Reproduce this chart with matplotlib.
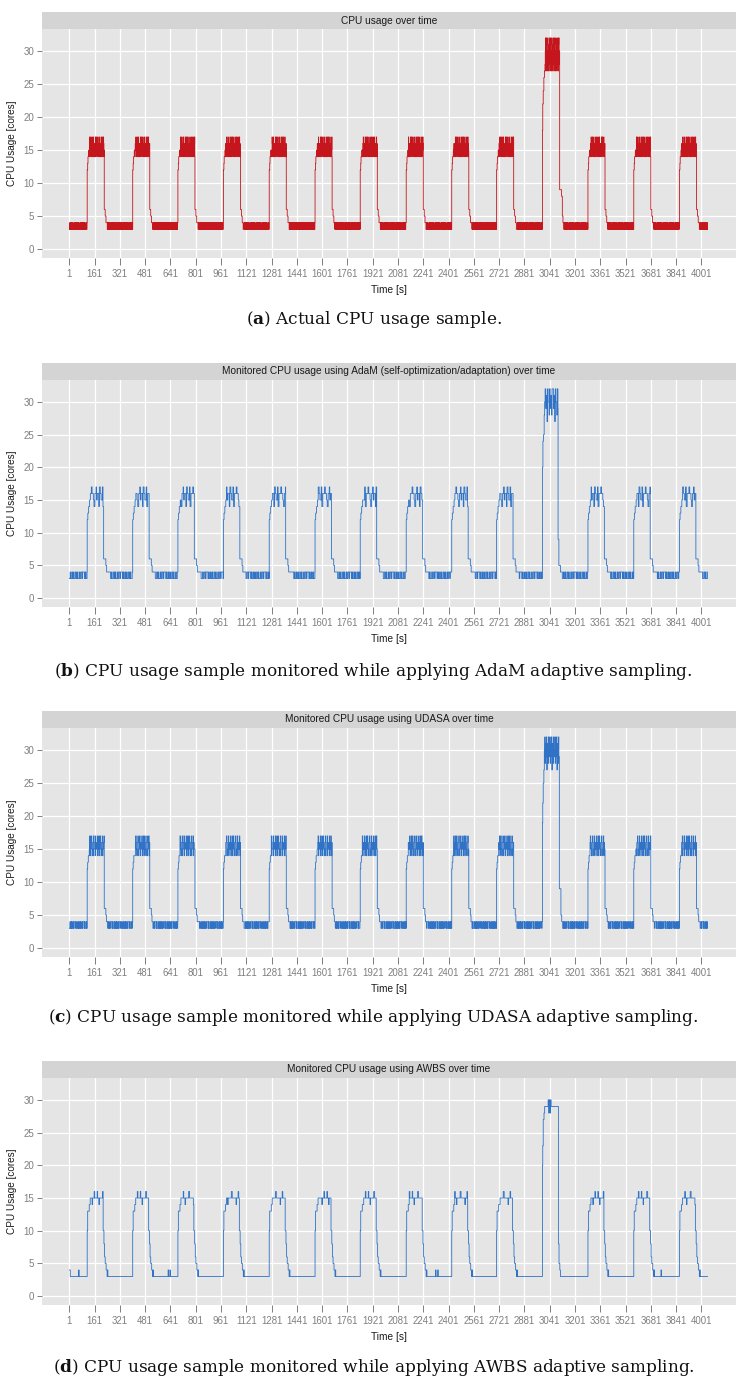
import numpy as np
import matplotlib
matplotlib.use("Agg")
import matplotlib.pyplot as plt
from matplotlib.patches import Rectangle

# ---------------- data ----------------
T_END = 4040
BURST_START = [114, 402, 688, 976, 1266, 1556, 1842, 2133, 2421, 2705, 2995, 3283, 3573, 3862]
BIG_BURST = 10

X_TICKS = [1, 161, 321, 481, 641, 801, 961, 1121, 1281, 1441, 1601, 1761, 1921,
           2081, 2241, 2401, 2561, 2721, 2881, 3041, 3201, 3361, 3521, 3681, 3841, 4001]
Y_TICKS = [0, 5, 10, 15, 20, 25, 30]

TITLES = ["CPU usage over time",
          "Monitored CPU usage using AdaM (self-optimization/adaptation) over time",
          "Monitored CPU usage using UDASA over time",
          "Monitored CPU usage using AWBS over time"]
CAPTION_LETTERS = ["a", "b", "c", "d"]
CAPTIONS = [" Actual CPU usage sample.",
            " CPU usage sample monitored while applying AdaM adaptive sampling.",
            " CPU usage sample monitored while applying UDASA adaptive sampling.",
            " CPU usage sample monitored while applying AWBS adaptive sampling."]

# (a) actual usage: segments are (seconds, cores)
ACT_UP = [(3, 12), (2, 13), (5, 14), (2, 15), (2, 14)]
ACT_TOP = [(2, 15), (1, 17), (2, 14), (1, 16), (3, 15), (1, 17), (2, 16), (1, 14), (4, 15),
           (1, 17), (2, 16), (1, 14), (2, 15), (3, 16), (1, 17), (2, 14), (1, 16), (2, 15),
           (1, 14), (3, 16)]
ACT_TOP_LEN = 94
ACT_DOWN = [(6, 6), (5, 5), (6, 4)]
ACT_BASE = [(2, 3), (1, 4), (3, 3), (2, 4), (1, 3), (1, 4), (4, 3), (1, 4), (2, 3), (3, 4),
            (1, 3), (2, 4), (6, 3), (1, 4), (2, 3), (1, 4), (3, 3), (2, 4)]
ACT_BIG_UP = [(2, 18), (3, 22), (4, 24), (4, 26), (3, 27)]
ACT_BIG_TOP = [(2, 28), (1, 30), (2, 32), (1, 29), (2, 27), (1, 31), (3, 32), (1, 28),
               (2, 30), (1, 27), (2, 29), (1, 32), (3, 31), (1, 28), (2, 27), (1, 30)]
ACT_BIG_LEN = 93
ACT_BIG_DOWN = [(12, 9), (5, 8), (4, 5), (4, 4)]

# (b) AdaM
ADAM_UP = [(4, 12), (5, 13), (6, 14), (5, 15)]
ADAM_TOP = [(6, 16), (5, 17), (8, 16), (4, 15), (6, 14), (7, 16), (3, 17), (5, 15), (9, 16),
            (4, 14), (6, 17), (5, 16), (8, 15), (4, 17), (6, 14), (5, 16)]
ADAM_TOP_LEN = 84
ADAM_DOWN = [(14, 6), (5, 5), (20, 4)]
ADAM_BASE = [(5, 3), (4, 4), (7, 3), (5, 4), (6, 3), (3, 4), (8, 3), (6, 4), (5, 3), (4, 4),
             (9, 3), (5, 4), (6, 3), (7, 4), (4, 3), (12, 4)]
ADAM_BIG_UP = [(3, 20), (4, 24), (4, 25), (3, 28), (3, 30)]
ADAM_BIG_TOP = [(4, 32), (3, 29), (5, 31), (3, 27), (4, 32), (6, 30), (3, 28), (4, 32),
                (5, 29), (3, 31), (4, 28), (5, 32)]
ADAM_BIG_LEN = 82
ADAM_BIG_DOWN = [(5, 9), (10, 5), (8, 4)]

# (c) UDASA
UD_UP = [(3, 12), (4, 13), (6, 14)]
UD_TOP = [(3, 15), (2, 17), (4, 14), (2, 16), (3, 17), (4, 15), (2, 14), (5, 16), (2, 17),
          (3, 14), (4, 15), (2, 16), (3, 17), (2, 14), (3, 16), (6, 15), (2, 17), (3, 14),
          (2, 16)]
UD_TOP_LEN = 95
UD_DOWN = [(10, 6), (4, 5), (6, 4)]
UD_BASE = [(4, 3), (2, 4), (5, 3), (2, 4), (3, 3), (3, 4), (6, 3), (2, 4), (4, 3), (2, 4),
           (6, 4), (3, 3), (3, 4), (2, 3), (5, 3), (3, 4)]
UD_BIG_UP = [(2, 19), (3, 22), (4, 25), (3, 27)]
UD_BIG_TOP = [(3, 30), (2, 32), (3, 28), (2, 31), (3, 29), (3, 32), (2, 27), (3, 30),
              (3, 31), (2, 28), (2, 32), (4, 29)]
UD_BIG_LEN = 95
UD_BIG_DOWN = [(10, 9), (5, 5), (4, 4)]

# (d) AWBS
AWBS_UP = [(3, 10), (10, 13), (6, 14)]
AWBS_TOP = [(12, 15), (3, 14), (10, 15), (4, 16), (15, 15), (3, 16), (8, 15), (3, 14),
            (20, 15), (6, 16), (12, 15)]
AWBS_TOP_LEN = 82
AWBS_DOWN = [(5, 10), (4, 8), (4, 6), (6, 5), (6, 4), (3, 3), (2, 4)]
AWBS_BASE = [(200, 3)]
AWBS_SPIKES = [(1, 6, 4), (60, 3, 4), (626, 4, 4), (638, 3, 4), (2318, 4, 4),
               (2332, 4, 4), (3745, 3, 4)]
AWBS_BIG_UP = [(2, 20), (3, 23), (5, 27), (4, 28)]
AWBS_BIG_TOP = [(22, 29), (4, 30), (3, 28), (5, 30), (3, 28), (4, 30), (46, 29)]
AWBS_BIG_LEN = 87
AWBS_BIG_DOWN = [(4, 8), (5, 5), (4, 4)]

RED = "#C4161C"
BLUE = "#2F72C6"


def fill(segs, n, offset=0):
    if n <= 0:
        return np.array([], dtype=float)
    out, total, i = [], 0, offset
    while total < n:
        d, v = segs[i % len(segs)]
        out.append(np.full(d, float(v)))
        total += d
        i += 1
    return np.concatenate(out)[:n]


def expand(segs):
    return fill(segs, sum(d for d, _ in segs))


def build(p, spikes=()):
    parts, t = [], 1
    for k, s in enumerate(BURST_START):
        parts.append(fill(p["base"], s - t, offset=3 * k))
        if k == BIG_BURST:
            burst = np.concatenate([expand(p["big_up"]), fill(p["big_top"], p["big_len"]),
                                    expand(p["big_down"])])
        else:
            burst = np.concatenate([expand(p["up"]), fill(p["top"], p["top_len"], offset=2 * k),
                                    expand(p["down"])])
        parts.append(burst)
        t = s + len(burst)
    parts.append(fill(p["base"], T_END - t + 1, offset=5))
    y = np.concatenate(parts)
    for ts, d, v in spikes:
        y[ts - 1:ts - 1 + d] = v
    x = np.arange(1, len(y) + 1)
    return x, y


series = [
    build(dict(up=ACT_UP, top=ACT_TOP, top_len=ACT_TOP_LEN, down=ACT_DOWN, base=ACT_BASE,
               big_up=ACT_BIG_UP, big_top=ACT_BIG_TOP, big_len=ACT_BIG_LEN,
               big_down=ACT_BIG_DOWN)),
    build(dict(up=ADAM_UP, top=ADAM_TOP, top_len=ADAM_TOP_LEN, down=ADAM_DOWN, base=ADAM_BASE,
               big_up=ADAM_BIG_UP, big_top=ADAM_BIG_TOP, big_len=ADAM_BIG_LEN,
               big_down=ADAM_BIG_DOWN)),
    build(dict(up=UD_UP, top=UD_TOP, top_len=UD_TOP_LEN, down=UD_DOWN, base=UD_BASE,
               big_up=UD_BIG_UP, big_top=UD_BIG_TOP, big_len=UD_BIG_LEN,
               big_down=UD_BIG_DOWN)),
    build(dict(up=AWBS_UP, top=AWBS_TOP, top_len=AWBS_TOP_LEN, down=AWBS_DOWN, base=AWBS_BASE,
               big_up=AWBS_BIG_UP, big_top=AWBS_BIG_TOP, big_len=AWBS_BIG_LEN,
               big_down=AWBS_BIG_DOWN), spikes=AWBS_SPIKES),
]
COLORS = [RED, BLUE, BLUE, BLUE]
LWS = [0.6, 0.6, 0.6, 0.6]

# ---------------- layout ----------------
W, H = 747, 1389
fig = plt.figure(figsize=(W / 100, H / 100), dpi=100)
plt.rcParams["mathtext.fontset"] = "dejavuserif"

LEFT, RIGHT = 42, 736
PANELS = [(29, 258), (380, 607), (728, 957), (1078, 1305)]
CAPTION_Y = [320, 671, 1018, 1367]
STRIP_H = 17
SANS = "Liberation Sans"
GREY = "#7F7F7F"


def fx(px):
    return px / W


def fy(py):
    return 1 - py / H


for i, (top, bot) in enumerate(PANELS):
    ax = fig.add_axes([fx(LEFT), fy(bot), fx(RIGHT - LEFT), (bot - top) / H])
    ax.set_facecolor("#E5E5E5")
    x, y = series[i]
    ax.plot(x, y, drawstyle="steps-post", color=COLORS[i], lw=LWS[i], zorder=3)
    ax.set_xlim(-172, 4220)
    ax.set_ylim(-1.35, 33.35)
    ax.set_xticks(X_TICKS)
    ax.set_xticklabels([str(v) for v in X_TICKS], fontfamily=SANS)
    ax.set_yticks(Y_TICKS)
    ax.set_yticklabels([str(v) for v in Y_TICKS], fontfamily=SANS)
    ax.grid(True, color="white", lw=0.9, zorder=1)
    ax.set_axisbelow(True)
    for s in ax.spines.values():
        s.set_visible(False)
    ax.tick_params(axis="x", length=5, width=0.7, color=GREY, pad=3.0,
                   labelsize=6.9, labelcolor=GREY)
    ax.tick_params(axis="y", length=3.5, width=0.7, color=GREY, pad=2,
                   labelsize=7.0, labelcolor=GREY)

    # strip
    fig.patches.append(Rectangle((fx(LEFT), fy(top)), fx(RIGHT - LEFT), STRIP_H / H,
                                 transform=fig.transFigure, facecolor="#D4D4D4",
                                 edgecolor="none", zorder=0))
    fig.text(fx((LEFT + RIGHT) / 2), fy(top - STRIP_H / 2), TITLES[i], ha="center",
             va="center", fontsize=7.3, color="#1A1A1A", family=SANS)
    # axis titles
    fig.text(fx((LEFT + RIGHT) / 2), fy(bot + 32), "Time [s]", ha="center", va="center",
             fontsize=7.3, color="#1A1A1A", family=SANS)
    fig.text(fx(12), fy((top + bot) / 2), "CPU Usage [cores]", ha="center", va="center",
             rotation=90, fontsize=7.2, color="#1A1A1A", family=SANS)
    # caption
    fig.text(0.5, fy(CAPTION_Y[i]),
             "($\\mathbf{" + CAPTION_LETTERS[i] + "}$)" + CAPTIONS[i],
             ha="center", va="center", fontsize=12.2, color="#111111", family="DejaVu Serif")

fig.savefig("out.png", dpi=100, facecolor="white")
